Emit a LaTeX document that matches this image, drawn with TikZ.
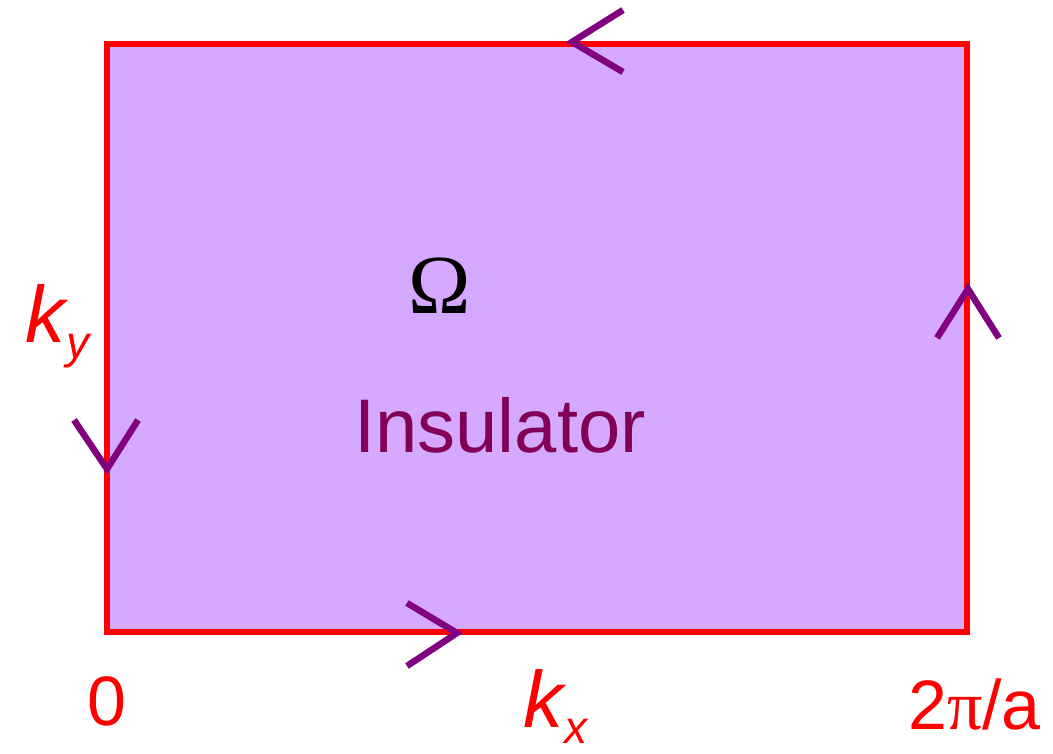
\documentclass[tikz,border=0pt]{standalone}
\usepackage{fontspec}
\setmainfont{Liberation Sans}
\newfontfamily\timesf{Liberation Serif}
\definecolor{fillc}{HTML}{D4A9FF}
\definecolor{chevc}{HTML}{800080}
\definecolor{insc}{HTML}{820055}
\definecolor{redc}{HTML}{FF0000}
\newcommand{\subtxt}[2]{\raisebox{-#1pt}{\fontsize{46}{52}\selectfont #2}}
\begin{document}
\begin{tikzpicture}[x=1pt,y=-1pt,
  chev/.style={draw=chevc, line width=6.5pt, line cap=butt, line join=miter},
  lbl/.style={inner sep=0pt, text=redc},
  bigf/.style={font=\fontsize{70}{80}\selectfont},
  kf/.style={font=\itshape\fontsize{80}{90}\selectfont}]
\useasboundingbox (0,0) rectangle (1053,754);
\node[draw=redc, line width=6.5pt, fill=fillc, minimum width=860pt, minimum height=588pt, inner sep=0pt] (bz) at (537,338) {};
\draw[chev] (623,10) -- (572,42) -- (623,72);
\draw[chev] (937,338) -- (968,289) -- (999,338);
\draw[chev] (74,420) -- (107,469) -- (138,420);
\draw[chev] (407,603) -- (457,633) -- (407,666);
\node[inner sep=0pt, font=\timesf\fontsize{84}{90}\selectfont] (om) at (440,286) {Ω};
\node[inner sep=0pt, anchor=base, text=insc, font=\fontsize{76}{80}\selectfont] (ins) at (500,452) {Insulator};
\node[lbl, kf, anchor=base west] (ky) at (25,342) {k\kern1pt\subtxt{16}{y}};
\node[lbl, kf, anchor=base west] (kx) at (523,727) {k\kern1pt\subtxt{16}{x}};
\node[lbl, bigf, anchor=base] (zero) at (107,725) {0};
\node[lbl, bigf, anchor=base west] (tpa) at (908,729) {2{\timesf π}/a};
\end{tikzpicture}
\end{document}
